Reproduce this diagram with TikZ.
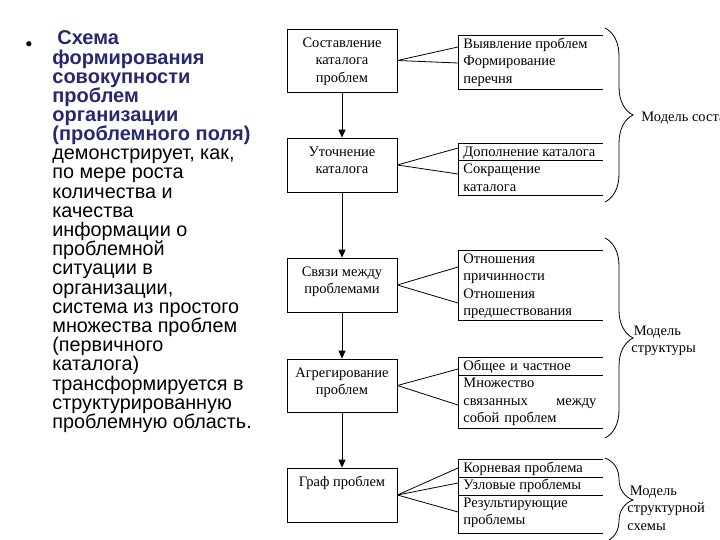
\documentclass[tikz,border=0pt]{standalone}
\usepackage{fontspec}
\setmainfont{Liberation Serif}
\newfontfamily\arialfnt{Liberation Sans}
\usetikzlibrary{positioning,arrows.meta,decorations.pathreplacing}
\definecolor{hdrblue}{RGB}{40,40,112}
\setlength{\lineskiplimit}{-20pt}
\tikzset{
  lbox/.style={draw,minimum width=110pt,inner sep=0pt},
  btxt/.style={inner sep=0pt,align=center,font=\fontsize{14.5}{17.5}\selectfont},
  rtxt/.style={inner sep=0pt,anchor=north west,align=left,font=\fontsize{14.5}{17.5}\selectfont},
  ltxt/.style={inner sep=0pt,anchor=north west,align=left},
}
\begin{document}
\begin{tikzpicture}[x=1pt,y=1pt,line width=0.8pt]
\pgfmathsetmacro{\rx}{458}
\pgfmathsetmacro{\rw}{145}
\useasboundingbox (0,0) rectangle (720,-540);
\clip (0,0) rectangle (720,-540);
\node[anchor=base,inner sep=0pt,font=\arialfnt\fontsize{19}{19.2}\selectfont] (bullet) at (29,-50.5) {•};
\node[ltxt,text=hdrblue,font=\arialfnt\bfseries\fontsize{20}{19.2}\selectfont] (head) at (52,-30.6) {\strut\hspace{5pt}Схема\\формирования\\совокупности\\проблем\\организации\\(проблемного поля)};
\node[ltxt,font=\arialfnt\fontsize{19.8}{19.2}\selectfont] (body) at (52,-145.8) {\strut демонстрирует, как,\\по мере роста\\количества и\\качества\\информации о\\проблемной\\ситуации в\\организации,\\система из простого\\множества проблем\\(первичного\\каталога)\\трансформируется в\\структурированную\\проблемную область.};
\foreach \n/\y/\h in {b1/60.5/63,b2/165/54,b3/285/54,b4/385.5/53,b5/495/54}{\node[lbox,minimum height=\h pt] (\n) at (342,-\y) {};}
\foreach \n/\t in {b1/{Составление\\каталога\\проблем},b2/{Уточнение\\каталога},b3/{Связи между\\проблемами},b4/{Агрегирование\\проблем},b5/{Граф проблем}}{\node[btxt,below=6pt of \n.north] (t-\n) {\strut\t};}
\foreach \a/\b in {b1/b2,b2/b3,b3/b4,b4/b5}{\draw[-{Triangle[length=8pt,width=7pt]}] (\a) -- (\b);}
\foreach \t/\b in {35/89,143/195,250/320,357/428,459/533}{\draw (\rx+\rw,-\t) -- (\rx,-\t) -- (\rx,-\b) -- (\rx+\rw,-\b);}
\foreach \y in {160,375,477,495}{\draw (\rx,-\y) -- ++(\rw,0);}
\node[rtxt] (g1) at (\rx+5,-35.5) {\strut Выявление проблем\\Формирование\\перечня};
\node[rtxt] (g2) at (\rx+5,-143.5) {\strut Дополнение каталога\\Сокращение\\каталога};
\node[rtxt] (g3) at (\rx+5,-250.5) {\strut Отношения\\причинности\\Отношения\\предшествования};
\node[rtxt,text width=133pt] (g4) at (\rx+5,-357.5) {\strut Общее и частное\\Множество\\связанных \hfill между\\собой проблем};
\node[rtxt] (g5) at (\rx+5,-459.5) {\strut Корневая проблема\\Узловые проблемы\\Результирующие\\проблемы};
\foreach \c/\y in {c1a/47,c1b/63,c2a/148,c2b/174,c3a/267,c3b/303,c4a/369,c4b/405,c5a/468,c5b/483,c5c/512}{\coordinate (\c) at (\rx,-\y);}
\foreach \b/\c in {b1/c1a,b1/c1b,b2/c2a,b2/c2b,b3/c3a,b3/c3b,b4/c4a,b4/c4b,b5/c5a,b5/c5b,b5/c5c}{\draw (\b.east) -- (\c);}
\foreach \t/\b in {28/202,238/438,458/542}{\draw[decorate,decoration={brace,amplitude=28pt}] (605,-\t) -- (605,-\b);}
\node[rtxt,anchor=west] (m1) at (641,-118) {Модель состава};
\node[rtxt,anchor=west] (m2) at (631,-341) {\,Модель\\структуры};
\node[rtxt,anchor=west] (m3) at (627,-508) {\,Модель\\структурной\\схемы};
\end{tikzpicture}
\end{document}
